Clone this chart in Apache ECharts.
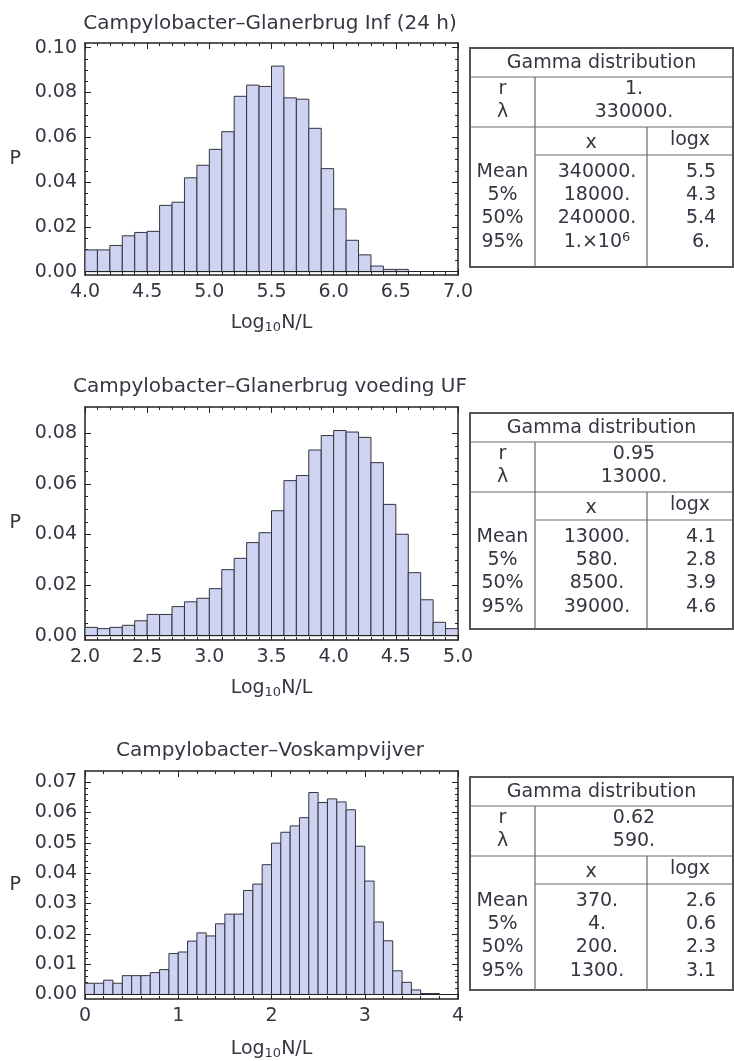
<!DOCTYPE html>
<html><head><meta charset="utf-8">
<script src="https://cdn.jsdelivr.net/npm/echarts@6/dist/echarts.min.js"></script>
<style>html,body{margin:0;padding:0;background:#fff}#c{width:734px;height:1061px}</style>
</head><body><div id="c"></div>
<script>
// ---------- DATA ----------
const titles = ['Campylobacter\u2013Glanerbrug Inf (24 h)', 'Campylobacter\u2013Glanerbrug voeding UF', 'Campylobacter\u2013Voskampvijver'];

const edges1 = [4.0,4.1,4.2,4.3,4.4,4.5,4.6,4.7,4.8,4.9,5.0,5.1,5.2,5.3,5.4,5.5,5.6,5.7,5.8,5.9,6.0,6.1,6.2,6.3,6.4,6.5,6.6];
const p1 = [0.0097,0.0097,0.0117,0.0160,0.0175,0.0180,0.0296,0.0310,0.0419,0.0475,0.0546,0.0625,0.0783,0.0833,0.0827,0.0918,0.0776,0.0770,0.0640,0.0460,0.0280,0.0140,0.0075,0.0025,0.0010,0.0010];

const edges2 = [2.0,2.1,2.2,2.3,2.4,2.5,2.6,2.7,2.8,2.9,3.0,3.1,3.2,3.3,3.4,3.5,3.6,3.7,3.8,3.9,4.0,4.1,4.2,4.3,4.4,4.5,4.6,4.7,4.8,4.9,5.0];
const p2 = [0.0033,0.0028,0.0033,0.0041,0.0059,0.0084,0.0084,0.0115,0.0134,0.0148,0.0186,0.0261,0.0306,0.0368,0.0407,0.0494,0.0613,0.0633,0.0734,0.0791,0.0811,0.0805,0.0784,0.0684,0.0519,0.0401,0.0249,0.0142,0.0053,0.0028];

const edges3 = [0.0,0.1,0.2,0.3,0.4,0.5,0.6,0.7,0.8,0.9,1.0,1.1,1.2,1.3,1.4,1.5,1.6,1.7,1.8,1.9,2.0,2.1,2.2,2.3,2.4,2.5,2.6,2.7,2.8,2.9,3.0,3.1,3.2,3.3,3.4,3.5,3.6,3.7,3.8];
const p3 = [0.0037,0.0037,0.0047,0.0037,0.0062,0.0062,0.0062,0.0072,0.0082,0.0135,0.0140,0.0176,0.0203,0.0193,0.0233,0.0265,0.0265,0.0343,0.0364,0.0428,0.0499,0.0535,0.0556,0.0583,0.0666,0.0633,0.0645,0.0635,0.0609,0.0489,0.0374,0.0239,0.0177,0.0078,0.0040,0.0015,0.0003,0.0003];

const xTicks1 = [4.0,4.5,5.0,5.5,6.0,6.5,7.0];
const xTicks2 = [2.0,2.5,3.0,3.5,4.0,4.5,5.0];
const xTicks3 = [0,1,2,3,4];
const yTicks1 = [0,0.02,0.04,0.06,0.08,0.10];
const yTicks2 = [0,0.02,0.04,0.06,0.08];
const yTicks3 = [0,0.01,0.02,0.03,0.04,0.05,0.06,0.07];
const yMinorStep = [0.005, 0.005, 0.002];

const statLabels = ['Mean','5%','50%','95%'];
const tableParams1 = ['1.', '330000.'];
const statX1 = ['340000.','18000.','240000.','1.\u00d710^6'];
const statLog1 = ['5.5','4.3','5.4','6.'];
const tableParams2 = ['0.95', '13000.'];
const statX2 = ['13000.','580.','8500.','39000.'];
const statLog2 = ['4.1','2.8','3.9','4.6'];
const tableParams3 = ['0.62', '590.'];
const statX3 = ['370.','4.','200.','1300.'];
const statLog3 = ['2.6','0.6','2.3','3.1'];

// ---------- LAYOUT ----------
const FONT = 'DejaVu Sans';
const FS = 19;
const TXT = '#3a3442';
const EDGE = '#222';
const panels = [
  {edges: edges1, p: p1, xTicks: xTicks1, yTicks: yTicks1, minor: yMinorStep[0], dec: 1,
   grid: {left: 85, top: 43, width: 373, height: 232}, yMin: -0.0015, yMax: 0.1021, titleTop: 14, nameGap: 37,
   table: {top: 48, bottom: 267, params: tableParams1, x: statX1, lg: statLog1}},
  {edges: edges2, p: p2, xTicks: xTicks2, yTicks: yTicks2, minor: yMinorStep[1], dec: 1,
   grid: {left: 85, top: 407, width: 373, height: 233}, yMin: -0.0017, yMax: 0.0904, titleTop: 377, nameGap: 37,
   table: {top: 413, bottom: 629, params: tableParams2, x: statX2, lg: statLog2}},
  {edges: edges3, p: p3, xTicks: xTicks3, yTicks: yTicks3, minor: yMinorStep[2], dec: 0,
   grid: {left: 85, top: 771, width: 373, height: 231}, yMin: -0.0015, yMax: 0.0737, titleTop: 741, nameGap: 39,
   table: {top: 777, bottom: 990, params: tableParams3, x: statX3, lg: statLog3}}
];

function minorTicks(major, step) {
  const out = [];
  const top = major[major.length - 1];
  for (let v = step; v < top + step / 2; v += step) {
    const r = Math.round(v * 10000) / 10000;
    if (!major.some(m => Math.abs(m - r) < 1e-9)) out.push(r);
  }
  return out;
}

function renderBar(params, api) {
  const a = api.coord([api.value(0), 0]);
  const b = api.coord([api.value(1), api.value(2)]);
  return {type: 'rect', shape: {x: a[0], y: b[1], width: b[0] - a[0], height: a[1] - b[1]},
    style: {fill: '#cdd3f0', stroke: '#333340', lineWidth: 1}};
}

const option = {animation: false, backgroundColor: '#fff', title: [], grid: [], xAxis: [], yAxis: [], series: [], graphic: []};

panels.forEach((P, i) => {
  option.title.push({text: titles[i], left: 270, top: P.titleTop, textAlign: 'center', padding: 0,
    textStyle: {fontFamily: FONT, fontSize: 20, fontWeight: 'normal', color: TXT}});
  option.grid.push(Object.assign({containLabel: false}, P.grid));
  const xmin = P.xTicks[0], xmax = P.xTicks[P.xTicks.length - 1];
  const interval = P.xTicks[1] - P.xTicks[0];
  const baseX = {gridIndex: i, type: 'value', min: xmin, max: xmax, interval: interval,
    axisLine: {show: true, onZero: false, lineStyle: {color: EDGE, width: 1.5}},
    axisTick: {show: true, inside: true, length: 6, lineStyle: {color: EDGE, width: 1}},
    minorTick: {show: true, splitNumber: 5, length: 3, lineStyle: {color: EDGE, width: 1}},
    splitLine: {show: false}};
  option.xAxis.push(Object.assign({}, baseX, {position: 'bottom',
    name: 'Log{sub|10}N/L', nameLocation: 'middle', nameGap: P.nameGap,
    nameTextStyle: {fontFamily: FONT, fontSize: FS, color: TXT,
      rich: {sub: {fontFamily: FONT, fontSize: 13, color: TXT, padding: [9, 0, 0, 0]}}},
    axisLabel: {show: true, margin: 8, fontFamily: FONT, fontSize: FS, color: TXT,
      formatter: v => v.toFixed(P.dec)}}));
  option.xAxis.push(Object.assign({}, baseX, {position: 'top', axisLabel: {show: false}}));
  const xIdxBottom = option.xAxis.length - 2;

  const minors = minorTicks(P.yTicks, P.minor);
  const baseY = {gridIndex: i, type: 'value', min: P.yMin, max: P.yMax, splitLine: {show: false}};
  ['left', 'right'].forEach(pos => {
    option.yAxis.push(Object.assign({}, baseY, {position: pos,
      name: pos === 'left' ? 'P' : '', nameLocation: 'middle', nameRotate: 0, nameGap: 64,
      nameTextStyle: {fontFamily: FONT, fontSize: FS, color: TXT},
      axisLine: {show: true, onZero: false, lineStyle: {color: EDGE, width: 1.5}},
      axisTick: {show: true, inside: true, length: 6, customValues: P.yTicks, lineStyle: {color: EDGE, width: 1}},
      axisLabel: {show: pos === 'left', margin: 8, customValues: P.yTicks, fontFamily: FONT, fontSize: FS, color: TXT,
        formatter: v => v.toFixed(2)}}));
    option.yAxis.push(Object.assign({}, baseY, {position: pos,
      axisLine: {show: false, onZero: false},
      axisTick: {show: true, inside: true, length: 3, customValues: minors, lineStyle: {color: EDGE, width: 1}},
      axisLabel: {show: false}}));
  });
  const yIdx = option.yAxis.length - 4;

  const data = P.p.map((v, k) => [P.edges[k], P.edges[k + 1], v]);
  option.series.push({type: 'custom', xAxisIndex: xIdxBottom, yAxisIndex: yIdx, data: data,
    encode: {x: [0, 1], y: 2}, renderItem: renderBar, silent: true,
    markLine: {silent: true, symbol: 'none', label: {show: false}, animation: false,
      lineStyle: {color: EDGE, width: 1, type: 'solid'}, data: [{yAxis: 0}]}});

  // table
  const T = P.table, x0 = 470, x1 = 733, c1 = 535, c2 = 647, t = T.top, b = T.bottom;
  const G = option.graphic;
  const ln = (ax, ay, bx, by) => G.push({type: 'line', silent: true, shape: {x1: ax, y1: ay, x2: bx, y2: by},
    style: {stroke: '#6a6a6a', lineWidth: 1.2}});
  const tx = (s, x, y, align) => {
    let text = s, rich = {};
    if (s.indexOf('^') >= 0) {
      const parts = s.split('^');
      text = '{n|' + parts[0] + '}{sup|' + parts[1] + '}';
      rich = {n: {fontFamily: FONT, fontSize: FS, fill: TXT}, sup: {fontFamily: FONT, fontSize: 13, fill: TXT, padding: [0, 0, 9, 0]}};
    }
    G.push({type: 'text', silent: true, style: {text: text, x: x, y: y, align: align || 'center', verticalAlign: 'middle',
      fontFamily: FONT, fontSize: FS, fill: TXT, rich: rich}});
  };
  G.push({type: 'rect', silent: true, shape: {x: x0, y: t, width: x1 - x0, height: b - t},
    style: {fill: 'none', stroke: '#555', lineWidth: 2}});
  ln(x0, t + 29, x1, t + 29);
  ln(x0, t + 79, x1, t + 79);
  ln(c1, t + 107, x1, t + 107);
  ln(c1, t + 29, c1, b);
  ln(c2, t + 79, c2, b);
  tx('Gamma distribution', (x0 + x1) / 2, t + 15);
  tx('r', (x0 + c1) / 2, t + 41);
  tx('\u03bb', (x0 + c1) / 2, t + 64);
  tx(T.params[0], (c1 + x1) / 2, t + 41);
  tx(T.params[1], (c1 + x1) / 2, t + 64);
  tx('x', (c1 + c2) / 2, t + 95);
  tx('logx', (c2 + x1) / 2, t + 92);
  const rowY = [124, 147, 170, 194];
  statLabels.forEach((s, k) => {
    tx(s, (x0 + c1) / 2, t + rowY[k]);
    tx(T.x[k], 597, t + rowY[k]);
    tx(T.lg[k], 701, t + rowY[k]);
  });
});

const chart = echarts.init(document.getElementById('c'), null, {renderer: 'canvas'});
chart.setOption(option);
</script></body></html>
